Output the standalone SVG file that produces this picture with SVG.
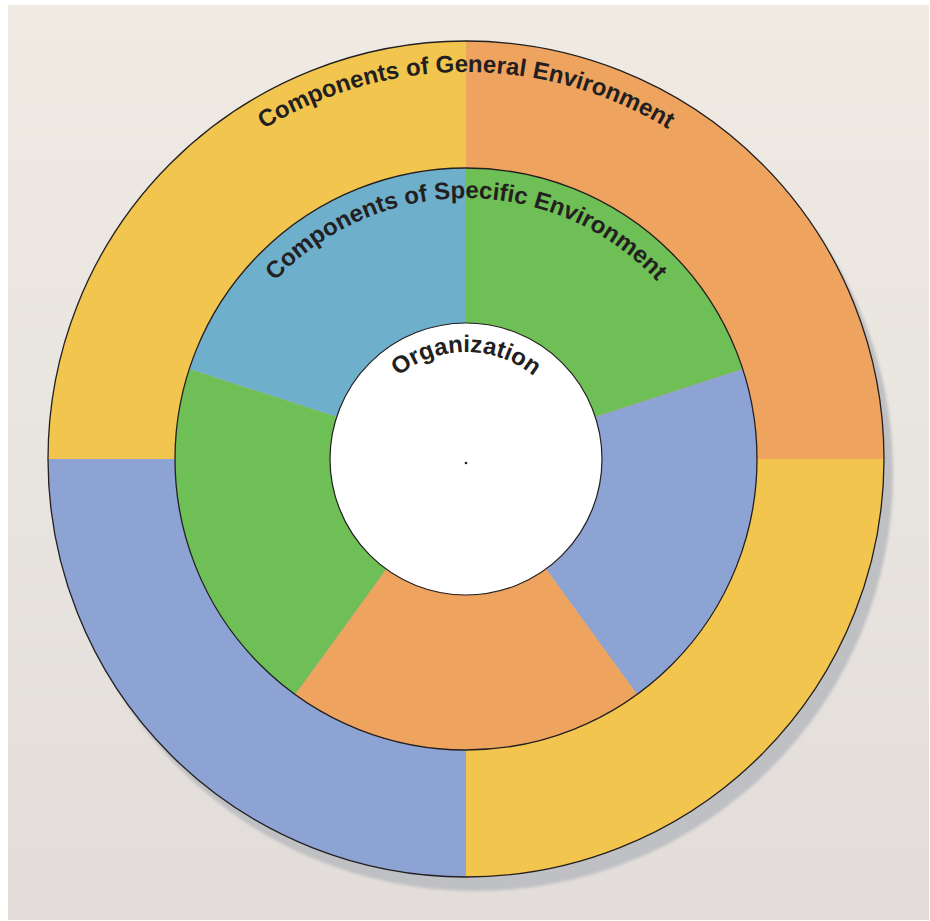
<svg xmlns="http://www.w3.org/2000/svg" width="930" height="921" viewBox="0 0 930 921">
<defs>
<linearGradient id="bg" x1="0" y1="0" x2="0" y2="1">
<stop offset="0" stop-color="#efebe3"/>
<stop offset="1" stop-color="#e2ddda"/>
</linearGradient>
<filter id="blur" x="-5%" y="-5%" width="110%" height="110%"><feGaussianBlur stdDeviation="1.5"/></filter>
<path id="arcOuter" d="M79,459 A387,387 0 0 1 853,459"/>
<path id="arcMid" d="M205,459 A261,261 0 0 1 727,459"/>
<path id="arcInner" d="M359,459 A107,107 0 0 1 573,459"/>
</defs>
<style>
.lbl{font-family:"Liberation Sans",Arial,Helvetica,sans-serif;font-weight:bold;font-size:24px;fill:#231f20}
.ring{stroke:#231f20;stroke-width:1.3;fill:none}
.yellow{fill:#f2c64e}.orange{fill:#eea35e}.blue{fill:#8ca3d4}.green{fill:#6ebf55}.lblue{fill:#6eafcc}
</style>
<rect x="8" y="5" width="921" height="915" fill="url(#bg)"/>
<circle cx="475" cy="473" r="418" fill="#bfc0c3" filter="url(#blur)"/>
<g id="general-environment">
<path class="yellow" d="M466,459 L48,459 A418,418 0 0 1 466,41 Z"/>
<path class="orange" d="M466,459 L466,41 A418,418 0 0 1 884,459 Z"/>
<path class="yellow" d="M466,459 L884,459 A418,418 0 0 1 466,877 Z"/>
<path class="blue" d="M466,459 L466,877 A418,418 0 0 1 48,459 Z"/>
<circle class="ring" cx="466" cy="459" r="418"/>
<text class="lbl"><textPath href="#arcOuter" startOffset="50%" text-anchor="middle">Components of General Environment</textPath></text>
</g>
<g id="specific-environment">
<path class="green" d="M466,459 L466,168 A291,291 0 0 1 742.76,369.08 Z"/>
<path class="blue" d="M466,459 L742.76,369.08 A291,291 0 0 1 637.05,694.42 Z"/>
<path class="orange" d="M466,459 L637.05,694.42 A291,291 0 0 1 294.95,694.42 Z"/>
<path class="green" d="M466,459 L294.95,694.42 A291,291 0 0 1 189.24,369.08 Z"/>
<path class="lblue" d="M466,459 L189.24,369.08 A291,291 0 0 1 466,168 Z"/>
<circle class="ring" cx="466" cy="459" r="291" stroke-width="1"/>
<text class="lbl"><textPath href="#arcMid" startOffset="50%" text-anchor="middle">Components of Specific Environment</textPath></text>
</g>
<g id="organization">
<circle cx="466" cy="459" r="136" fill="#ffffff" stroke="#231f20" stroke-width="1.2"/>
<text class="lbl"><textPath href="#arcInner" startOffset="50%" text-anchor="middle">Organization</textPath></text>
<circle cx="466" cy="463" r="1.3" fill="#231f20"/>
</g>
<g id="connectors"/>
</svg>
